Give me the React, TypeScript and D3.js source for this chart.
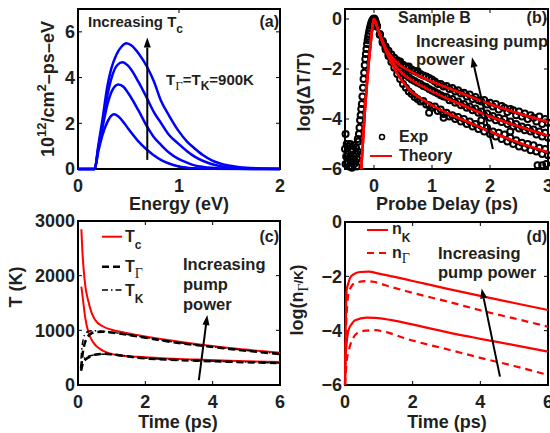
import {useEffect, useRef} from "react";
import * as d3 from "d3";

type Pt = [number, number];

const INK = "#231f20";
const SANS = "'Liberation Sans', Arial, Helvetica, sans-serif";
const SERIF = "'Liberation Serif', 'Times New Roman', serif";

// (a) distribución en energía, cuatro valores de Tc
const distTc1: Pt[] = [[0, 0], [0.165, 0], [0.2, 0.75], [0.24, 1.45], [0.29, 2.05], [0.356, 2.39], [0.4, 2.3], [0.45, 2.05], [0.5, 1.75], [0.6, 1.2], [0.686, 0.83], [0.75, 0.6], [0.825, 0.39], [0.9, 0.24], [0.99, 0.12], [1.08, 0.06], [1.155, 0.03], [1.3, 0.01], [2, 0]];
const distTc2: Pt[] = [[0, 0], [0.165, 0], [0.2, 0.85], [0.24, 1.75], [0.29, 2.8], [0.34, 3.45], [0.4, 3.7], [0.45, 3.6], [0.5, 3.3], [0.6, 2.55], [0.686, 1.84], [0.75, 1.4], [0.825, 1.04], [0.9, 0.72], [0.99, 0.45], [1.08, 0.28], [1.155, 0.16], [1.24, 0.09], [1.32, 0.05], [1.5, 0.01], [2, 0]];
const distTc3: Pt[] = [[0, 0], [0.165, 0], [0.2, 0.9], [0.24, 1.9], [0.29, 3.2], [0.34, 4.1], [0.39, 4.55], [0.44, 4.67], [0.5, 4.5], [0.6, 3.8], [0.686, 3.07], [0.75, 2.5], [0.825, 1.99], [0.9, 1.5], [0.99, 1.12], [1.08, 0.78], [1.155, 0.54], [1.24, 0.35], [1.32, 0.22], [1.4, 0.13], [1.49, 0.07], [1.6, 0.03], [1.8, 0.01], [2, 0]];
const distTc4: Pt[] = [[0, 0], [0.165, 0], [0.2, 1.0], [0.24, 2.1], [0.29, 3.6], [0.33, 4.4], [0.38, 5.0], [0.43, 5.35], [0.48, 5.5], [0.53, 5.4], [0.6, 5.05], [0.686, 4.45], [0.75, 3.85], [0.825, 2.95], [0.9, 2.35], [0.99, 1.7], [1.08, 1.2], [1.155, 0.9], [1.24, 0.6], [1.32, 0.39], [1.4, 0.25], [1.49, 0.15], [1.6, 0.08], [1.78, 0.03], [2, 0.01]];

// (b) teoría: subida común y tres colas
const theoryRise: Pt[] = [[-0.22, -6], [-0.185, -4.7], [-0.155, -3.6], [-0.12, -2.55], [-0.085, -1.6], [-0.05, -0.8], [-0.02, -0.2], [0, 0], [0.03, -0.15], [0.07, -0.42], [0.12, -0.75]];
const theoryHigh: Pt[] = [[0.2, -1.15], [0.3, -1.5], [0.4, -1.75], [0.5, -1.93], [0.65, -2.12], [0.8, -2.3], [1.0, -2.5], [1.3, -2.78], [1.6, -3.05], [2.0, -3.4], [2.5, -3.78], [3.0, -4.12]];
const theoryMid: Pt[] = [[0.2, -1.2], [0.3, -1.62], [0.4, -1.96], [0.5, -2.2], [0.65, -2.45], [0.8, -2.65], [1.0, -2.9], [1.3, -3.22], [1.6, -3.52], [2.0, -3.9], [2.5, -4.3], [3.0, -4.67]];
const theoryLow: Pt[] = [[0.2, -1.25], [0.3, -1.75], [0.4, -2.18], [0.5, -2.53], [0.65, -2.92], [0.8, -3.17], [1.0, -3.45], [1.3, -3.8], [1.6, -4.1], [2.0, -4.5], [2.5, -4.95], [3.0, -5.33]];

// (b) experimento
const expRise: Pt[] = [[-0.5, -5.2], [-0.49, -4.6], [-0.49, -5.8], [-0.48, -5.5], [-0.47, -5.0], [-0.46, -5.8], [-0.45, -5.4], [-0.44, -5.1], [-0.43, -5.9], [-0.42, -5.55], [-0.41, -5.0], [-0.4, -5.7], [-0.39, -5.3], [-0.38, -5.95], [-0.37, -5.2], [-0.36, -5.6], [-0.35, -5.05], [-0.34, -5.8], [-0.33, -5.4], [-0.32, -5.7], [-0.31, -5.15], [-0.3, -5.9], [-0.3, -5.4], [-0.29, -5.6], [-0.28, -4.8], [-0.28, -5.3], [-0.27, -4.9], [-0.26, -4.6], [-0.25, -4.35], [-0.24, -4.05], [-0.23, -3.85], [-0.22, -3.6], [-0.21, -3.4], [-0.2, -3.1], [-0.19, -2.75], [-0.18, -2.4], [-0.17, -2.15], [-0.16, -1.85], [-0.15, -1.6], [-0.14, -1.4], [-0.13, -1.2], [-0.12, -1.0], [-0.11, -0.85], [-0.1, -0.7], [-0.09, -0.58], [-0.08, -0.46], [-0.07, -0.36], [-0.06, -0.27], [-0.05, -0.19], [-0.04, -0.12], [-0.03, -0.07], [-0.02, -0.03], [-0.01, 0], [0, 0.02], [0.01, 0], [0.02, -0.05], [0.03, -0.12], [0.04, -0.2]];
const expStray: Pt[] = [[2.82, -5.85], [2.9, -5.85], [2.97, -5.8], [1.85, -4.05], [2.35, -4.5], [0.95, -3.75], [1.2, -3.95], [0.45, -1.7], [0.6, -1.9], [0.75, -2.08]];
const probeDelay: number[] = [0.05, 0.1, 0.15, 0.2, 0.25, 0.3, 0.35, 0.4, 0.45, 0.5, 0.55, 0.6, 0.65, 0.7, 0.75, 0.8, 0.85, 0.9, 0.95, 1.0, 1.05, 1.1, 1.15, 1.2, 1.25, 1.3, 1.35, 1.4, 1.45, 1.5, 1.55, 1.6, 1.65, 1.7, 1.75, 1.8, 1.85, 1.9, 1.95, 2.0, 2.05, 2.1, 2.15, 2.2, 2.25, 2.3, 2.35, 2.4, 2.45, 2.5, 2.55, 2.6, 2.65, 2.7, 2.75, 2.8, 2.85, 2.9, 2.95, 3.0];
const expHigh: number[] = [-0.28, -0.6, -0.88, -1.1, -1.27, -1.42, -1.55, -1.65, -1.75, -1.83, -1.9, -1.97, -2.02, -2.08, -2.14, -2.2, -2.26, -2.3, -2.36, -2.42, -2.5, -2.6, -2.6, -2.7, -2.68, -2.8, -2.76, -2.9, -2.85, -2.98, -2.95, -3.1, -3.02, -3.2, -3.12, -3.25, -3.3, -3.24, -3.42, -3.35, -3.5, -3.4, -3.62, -3.48, -3.55, -3.72, -3.6, -3.65, -3.85, -3.7, -3.9, -3.78, -4.0, -3.85, -3.95, -4.1, -3.9, -4.2, -4.0, -4.15];
const expMid: number[] = [-0.3, -0.62, -0.92, -1.16, -1.4, -1.58, -1.76, -1.92, -2.05, -2.16, -2.25, -2.33, -2.42, -2.48, -2.55, -2.6, -2.68, -2.72, -2.8, -2.86, -2.92, -2.98, -3.05, -3.1, -3.12, -3.25, -3.2, -3.35, -3.3, -3.45, -3.4, -3.55, -3.5, -3.65, -3.58, -3.75, -3.7, -3.85, -3.78, -3.95, -3.88, -4.05, -3.95, -4.12, -4.0, -4.2, -4.1, -4.3, -4.2, -4.38, -4.3, -4.45, -4.35, -4.5, -4.42, -4.62, -4.5, -4.7, -4.55, -4.75];
const expLow: number[] = [-0.3, -0.63, -0.95, -1.22, -1.48, -1.72, -1.95, -2.2, -2.4, -2.6, -2.75, -2.9, -3.0, -3.12, -3.2, -3.3, -3.28, -3.42, -3.45, -3.55, -3.5, -3.68, -3.62, -3.8, -3.75, -3.9, -3.85, -4.0, -3.92, -4.1, -4.0, -4.2, -4.1, -4.3, -4.2, -4.4, -4.28, -4.5, -4.35, -4.6, -4.5, -4.7, -4.55, -4.8, -4.62, -4.9, -4.75, -5.0, -4.85, -5.1, -4.95, -5.15, -5.0, -5.25, -5.05, -5.3, -5.15, -5.4, -5.2, -5.45];

// (c) temperaturas (K) vs tiempo (ps)
const tcHigh: Pt[] = [[0.1, 2850], [0.13, 2450], [0.17, 2100], [0.22, 1800], [0.3, 1550], [0.4, 1330], [0.5, 1200], [0.75, 1070], [1.0, 1010], [1.25, 975], [1.75, 915], [2.5, 835], [3.5, 750], [4.5, 675], [6, 590]];
const tcLow: Pt[] = [[0.1, 1800], [0.13, 1650], [0.16, 1500], [0.21, 1250], [0.31, 960], [0.45, 780], [0.75, 625], [1.25, 540], [1.75, 515], [2.5, 488], [3.5, 465], [4.5, 443], [6, 420]];
const tGammaHigh: Pt[] = [[0.09, 300], [0.12, 480], [0.15, 620], [0.2, 760], [0.26, 850], [0.35, 925], [0.5, 965], [0.75, 975], [1.0, 960], [1.75, 890], [2.75, 790], [3.5, 730], [4.5, 660], [6, 565]];
const tKHigh: Pt[] = [[0.09, 480], [0.12, 700], [0.16, 850], [0.22, 940], [0.3, 980], [0.45, 995], [0.7, 985], [1.0, 965], [1.75, 895], [2.75, 795], [3.5, 735], [4.5, 665], [6, 570]];
const tGammaLow: Pt[] = [[0.09, 260], [0.12, 340], [0.15, 400], [0.25, 480], [0.36, 520], [0.5, 555], [0.75, 570], [1.0, 562], [1.75, 500], [2.75, 462], [3.5, 445], [4.5, 425], [6, 400]];
const tKLow: Pt[] = [[0.09, 330], [0.12, 420], [0.16, 470], [0.25, 510], [0.4, 540], [0.6, 560], [0.9, 565], [1.2, 552], [1.75, 505], [2.75, 465], [3.5, 448], [4.5, 428], [6, 403]];

// (d) log de poblaciones
const nKHigh: Pt[] = [[0, -6], [0.02, -4.0], [0.05, -2.5], [0.1, -2.25], [0.15, -2.05], [0.25, -1.93], [0.44, -1.84], [0.7, -1.83], [1.0, -1.9], [1.5, -2.03], [2, -2.17], [3, -2.45], [4, -2.72], [5, -2.98], [6, -3.24]];
const nGammaHigh: Pt[] = [[0, -6], [0.03, -4.0], [0.07, -3.0], [0.1, -2.65], [0.2, -2.35], [0.3, -2.24], [0.6, -2.18], [0.84, -2.2], [1.2, -2.33], [1.82, -2.55], [3.1, -2.95], [4, -3.25], [5, -3.55], [6, -3.85]];
const nKLow: Pt[] = [[0, -6], [0.02, -5.0], [0.05, -4.45], [0.1, -4.0], [0.2, -3.75], [0.3, -3.62], [0.64, -3.52], [0.9, -3.53], [1.33, -3.6], [2.31, -3.86], [3.1, -4.08], [4, -4.3], [5, -4.53], [6, -4.77]];
const nGammaLow: Pt[] = [[0, -6], [0.05, -5.1], [0.1, -4.8], [0.15, -4.55], [0.25, -4.25], [0.35, -4.1], [0.6, -4.0], [0.9, -3.98], [1.2, -4.05], [1.82, -4.3], [3.1, -4.71], [4, -5.0], [5, -5.3], [6, -5.63]];

interface Part {
  t: string;
  size?: number;
  shift?: number;
  serif?: boolean;
}

// eslint-disable-next-line @typescript-eslint/no-explicit-any
type Sel = any;

const fmtTick = (v: number) => (v < 0 ? "\u2212" + Math.abs(v) : String(v));

function label(g: Sel, x: number, y: number, parts: Part[], size: number, anchor = "start", rotate = false) {
  const text = g
    .append("text")
    .attr("transform", rotate ? `translate(${x},${y}) rotate(-90)` : `translate(${x},${y})`)
    .attr("text-anchor", anchor)
    .attr("fill", INK)
    .style("font-family", SANS)
    .style("font-weight", "bold")
    .style("font-size", size + "px");
  let cur = 0;
  parts.forEach((p) => {
    const s = p.shift ?? 0;
    const ts = text.append("tspan").attr("dy", s - cur).text(p.t);
    cur = s;
    if (p.size) ts.style("font-size", p.size + "px");
    if (p.serif) ts.style("font-family", SERIF).style("font-weight", "normal");
  });
}

function drawFrame(g: Sel, x: Sel, y: Sel, xTicks: number[], yTicks: number[]) {
  const [x0, x1] = x.range();
  const [y0, y1] = y.range();
  const tick = (a: number, b: number, c: number, d: number) =>
    g.append("line").attr("x1", a).attr("y1", b).attr("x2", c).attr("y2", d).attr("stroke", "#000").attr("stroke-width", 1);
  xTicks.forEach((v) => {
    tick(x(v), y0, x(v), y0 - 4);
    tick(x(v), y1, x(v), y1 + 4);
    label(g, x(v), y0 + 22.5, [{t: fmtTick(v)}], 18, "middle");
  });
  yTicks.forEach((v) => {
    tick(x0, y(v), x0 + 4, y(v));
    tick(x1, y(v), x1 - 4, y(v));
    label(g, x0 - 3, y(v) + 6.4, [{t: fmtTick(v)}], 18, "end");
  });
  g.append("rect")
    .attr("x", x0)
    .attr("y", y1)
    .attr("width", x1 - x0)
    .attr("height", y0 - y1)
    .attr("fill", "none")
    .attr("stroke", "#000")
    .attr("stroke-width", 2);
}

function arrow(g: Sel, xa: number, ya: number, xb: number, yb: number) {
  const ang = Math.atan2(yb - ya, xb - xa);
  const len = 10;
  const half = 3.5;
  const bx = xb - len * Math.cos(ang);
  const by = yb - len * Math.sin(ang);
  g.append("line").attr("x1", xa).attr("y1", ya).attr("x2", bx).attr("y2", by).attr("stroke", "#000").attr("stroke-width", 2);
  const px = -Math.sin(ang) * half;
  const py = Math.cos(ang) * half;
  g.append("polygon")
    .attr("points", `${xb},${yb} ${bx + px},${by + py} ${bx - px},${by - py}`)
    .attr("fill", "#000");
}

function curve(g: Sel, line: Sel, data: Pt[], color: string, width: number, dash?: string) {
  const p = g.append("path").attr("d", line(data)).attr("fill", "none").attr("stroke", color).attr("stroke-width", width);
  if (dash) p.attr("stroke-dasharray", dash);
}

export default function App() {
  const svgRef = useRef<SVGSVGElement>(null);

  useEffect(() => {
    if (!svgRef.current) return;
    const svg = d3.select(svgRef.current);
    svg.selectAll("*").remove();
    svg.append("rect").attr("width", 550).attr("height", 433).attr("fill", "#fff");

    // ---------- (a)
    const xa = d3.scaleLinear().domain([0, 2]).range([78, 280]);
    const ya = d3.scaleLinear().domain([0, 7]).range([169, 9]);
    const ga = svg.append("g");
    drawFrame(ga, xa, ya, [0, 1, 2], [0, 2, 4, 6]);
    const lineA = d3.line<Pt>().x((d) => xa(d[0])).y((d) => ya(d[1])).curve(d3.curveMonotoneX);
    [distTc1, distTc2, distTc3, distTc4].forEach((s) => curve(ga, lineA, s, "#0000ff", 2.5));
    arrow(ga, xa(0.686), ya(0.4), xa(0.686), ya(5.75));
    label(ga, 88, 27, [{t: "Increasing T"}, {t: "c", size: 12, shift: 6}], 15);
    label(ga, 279, 27, [{t: "(a)"}], 16, "end");
    label(
      ga,
      166,
      85,
      [{t: "T"}, {t: "\u0393", size: 13, shift: 5, serif: true}, {t: "=T", shift: 0}, {t: "K", size: 12, shift: 5}, {t: "=900K", shift: 0}],
      15,
    );
    label(
      ga,
      53.5,
      89,
      [{t: "10"}, {t: "12", size: 13, shift: -8}, {t: "/cm", shift: 0}, {t: "2", size: 13, shift: -8}, {t: "\u2013ps\u2013eV", shift: 0}],
      18,
      "middle",
      true,
    );
    label(ga, 179, 210, [{t: "Energy (eV)"}], 18, "middle");

    // ---------- (b)
    const xb = d3.scaleLinear().domain([-0.5, 3]).range([345, 548]);
    const yb = d3.scaleLinear().domain([-6, 0.4]).range([169, 9]);
    const gb = svg.append("g");
    drawFrame(gb, xb, yb, [0, 1, 2, 3], [-6, -4, -2, 0]);
    const expPts: Pt[] = [
      ...expRise,
      ...probeDelay.map((d, i) => [d, expHigh[i]] as Pt),
      ...probeDelay.map((d, i) => [d, expMid[i]] as Pt),
      ...probeDelay.map((d, i) => [d, expLow[i]] as Pt),
      ...expStray,
    ];
    gb.selectAll(".exp")
      .data(expPts)
      .enter()
      .append("circle")
      .attr("cx", (d: Pt) => xb(d[0]))
      .attr("cy", (d: Pt) => yb(d[1]))
      .attr("r", 3)
      .attr("fill", "none")
      .attr("stroke", "#000")
      .attr("stroke-width", 2);
    const lineB = d3.line<Pt>().x((d) => xb(d[0])).y((d) => yb(d[1])).curve(d3.curveMonotoneX);
    [theoryHigh, theoryMid, theoryLow].forEach((t) => curve(gb, lineB, [...theoryRise, ...t], "#ff0000", 2.5));
    arrow(gb, xb(2.05), yb(-5.2), xb(1.69), yb(-1.53));
    label(gb, 398, 23, [{t: "Sample B"}], 16);
    label(gb, 547, 23, [{t: "(b)"}], 16, "end");
    label(gb, 416, 47, [{t: "Increasing pump"}], 16.5);
    label(gb, 416, 65, [{t: "power"}], 16.5);
    gb.append("circle").attr("cx", 382).attr("cy", 137).attr("r", 2.5).attr("fill", "none").attr("stroke", "#000").attr("stroke-width", 1.5);
    label(gb, 399, 142, [{t: "Exp"}], 16);
    gb.append("line").attr("x1", 370).attr("x2", 392).attr("y1", 156).attr("y2", 156).attr("stroke", "#ff0000").attr("stroke-width", 2);
    label(gb, 399, 161, [{t: "Theory"}], 16);
    label(gb, 310, 92, [{t: "log(\u0394T/T)"}], 18, "middle", true);
    label(gb, 447, 210, [{t: "Probe Delay (ps)"}], 18, "middle");

    // ---------- (c)
    const xc = d3.scaleLinear().domain([0, 6]).range([78, 280]);
    const yc = d3.scaleLinear().domain([0, 3000]).range([385, 221]);
    const gc = svg.append("g");
    drawFrame(gc, xc, yc, [0, 2, 4, 6], [0, 1000, 2000, 3000]);
    const lineC = d3.line<Pt>().x((d) => xc(d[0])).y((d) => yc(d[1])).curve(d3.curveMonotoneX);
    curve(gc, lineC, tcHigh, "#ff0000", 2);
    curve(gc, lineC, tcLow, "#ff0000", 2);
    curve(gc, lineC, tKHigh, "#000", 1.5, "6,3,1.5,3");
    curve(gc, lineC, tKLow, "#000", 1.5, "6,3,1.5,3");
    curve(gc, lineC, tGammaHigh, "#000", 2.5, "7,4");
    curve(gc, lineC, tGammaLow, "#000", 2.5, "7,4");
    gc.append("line").attr("x1", 102).attr("x2", 122).attr("y1", 236.7).attr("y2", 236.7).attr("stroke", "#ff0000").attr("stroke-width", 2);
    label(gc, 125, 242, [{t: "T"}, {t: "c", size: 12, shift: 7}], 16);
    gc.append("line").attr("x1", 102).attr("x2", 122).attr("y1", 266.7).attr("y2", 266.7).attr("stroke", "#000").attr("stroke-width", 2.5).attr("stroke-dasharray", "7,4");
    label(gc, 125, 272, [{t: "T"}, {t: "\u0393", size: 14, shift: 6, serif: true}], 16);
    gc.append("line").attr("x1", 102).attr("x2", 122).attr("y1", 290).attr("y2", 290).attr("stroke", "#000").attr("stroke-width", 1.5).attr("stroke-dasharray", "6,3,1.5,3");
    label(gc, 125, 296, [{t: "T"}, {t: "K", size: 12, shift: 7}], 16);
    label(gc, 279, 242, [{t: "(c)"}], 16, "end");
    label(gc, 183, 270, [{t: "Increasing"}], 16.5);
    label(gc, 183, 290, [{t: "pump"}], 16.5);
    label(gc, 183, 310, [{t: "power"}], 16.5);
    arrow(gc, xc(3.59), yc(91), xc(3.84), yc(1280));
    label(gc, 21.5, 287, [{t: "T (K)"}], 18, "middle", true);
    label(gc, 178, 428, [{t: "Time (ps)"}], 18, "middle");

    // ---------- (d)
    const xd = d3.scaleLinear().domain([0, 6]).range([345, 548]);
    const yd = d3.scaleLinear().domain([-6, 0]).range([385, 222]);
    const gd = svg.append("g");
    drawFrame(gd, xd, yd, [0, 2, 4, 6], [-6, -4, -2, 0]);
    const lineD = d3.line<Pt>().x((d) => xd(d[0])).y((d) => yd(d[1])).curve(d3.curveMonotoneX);
    curve(gd, lineD, nKHigh, "#ff0000", 2.2);
    curve(gd, lineD, nKLow, "#ff0000", 2.2);
    curve(gd, lineD, nGammaHigh, "#ff0000", 2.2, "7,5");
    curve(gd, lineD, nGammaLow, "#ff0000", 2.2, "7,5");
    gd.append("line").attr("x1", 367).attr("x2", 388).attr("y1", 230).attr("y2", 230).attr("stroke", "#ff0000").attr("stroke-width", 2);
    label(gd, 392, 234, [{t: "n"}, {t: "K", size: 12, shift: 8}], 16);
    gd.append("line").attr("x1", 367).attr("x2", 388).attr("y1", 253).attr("y2", 253).attr("stroke", "#ff0000").attr("stroke-width", 2).attr("stroke-dasharray", "7,5");
    label(gd, 392, 257.5, [{t: "n"}, {t: "\u0393", size: 14, shift: 5, serif: true}], 16);
    label(gd, 547, 242, [{t: "(d)"}], 16, "end");
    label(gd, 438, 258.5, [{t: "Increasing"}], 16.5);
    label(gd, 438, 278, [{t: "pump power"}], 16.5);
    arrow(gd, xd(4.58), yd(-5.69), xd(4.04), yd(-2.45));
    label(
      gd,
      303,
      300,
      [{t: "log(n"}, {t: "\u0393", size: 14, shift: 5, serif: true}, {t: "/K", size: 13}, {t: ")", shift: 0}],
      18,
      "middle",
      true,
    );
    label(gd, 447, 428, [{t: "Time (ps)"}], 18, "middle");
  }, []);

  return (
    <svg
      ref={svgRef}
      width={550}
      height={433}
      style={{position: "absolute", left: 0, top: 0, display: "block", background: "#fff"}}
    ></svg>
  );
}
